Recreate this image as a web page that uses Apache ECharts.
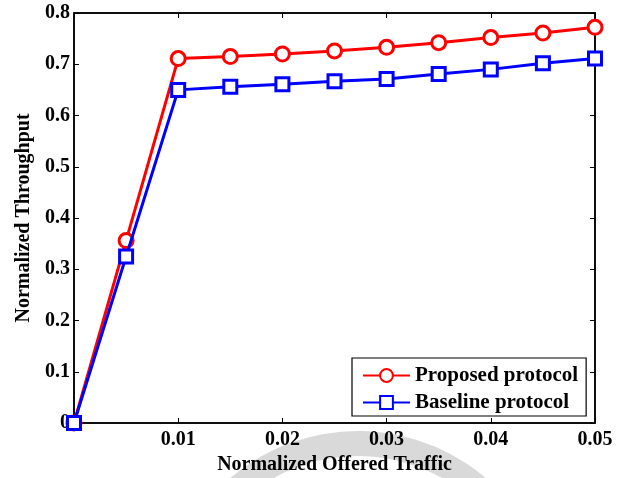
<!DOCTYPE html>
<html>
<head>
<meta charset="utf-8">
<script src="https://cdn.jsdelivr.net/npm/echarts@6/dist/echarts.min.js"></script>
<style>html,body{margin:0;padding:0;background:#fff;}#c{width:628px;height:478px;}</style>
</head>
<body>
<div id="c"></div>
<script>
var offeredTraffic = [0, 0.005, 0.01, 0.015, 0.02, 0.025, 0.03, 0.035, 0.04, 0.045, 0.05];
var proposed = [0, 0.356, 0.711, 0.715, 0.720, 0.726, 0.733, 0.742, 0.752, 0.761, 0.772];
var baseline = [0, 0.325, 0.650, 0.656, 0.661, 0.667, 0.671, 0.681, 0.690, 0.702, 0.711];
var seriesNames = ['Proposed protocol', 'Baseline protocol'];

function pairs(v){ return offeredTraffic.map(function(x,i){ return [x, v[i]]; }); }

var font = 'Liberation Serif';
var chart = echarts.init(document.getElementById('c'));
var axisLine = {show:true, onZero:false, lineStyle:{color:'#000', width:1.5}};
var tick = {show:true, inside:true, length:5, lineStyle:{color:'#000', width:1}};
chart.setOption({
  animation:false,
  backgroundColor:'#fff',
  grid:{left:74, right:33, top:13, bottom:55, containLabel:false, outerBoundsMode:'none',
    show:true, borderColor:'#000', borderWidth:1.5, backgroundColor:'transparent'},
  graphic:[{
    type:'sector', z:-10, silent:true,
    shape:{cx:358, cy:628, r0:172, r:197, startAngle:-Math.PI*0.93, endAngle:-Math.PI*0.2},
    style:{fill:'#d9d9d9'}
  }],
  legend:{
    left:352, top:358,
    orient:'vertical',
    padding:[7,8,3,10],
    itemWidth:47, itemHeight:16, itemGap:6,
    borderColor:'#000', borderWidth:1.2, backgroundColor:'#fff',
    textStyle:{fontFamily:font, fontWeight:'bold', fontSize:21, color:'#000'},
    data:seriesNames
  },
  xAxis:[{
    type:'value', min:0, max:0.05, interval:0.01,
    name:'Normalized Offered Traffic', nameLocation:'middle', nameGap:30,
    nameTextStyle:{fontFamily:font, fontWeight:'bold', fontSize:20, color:'#000'},
    axisLine:axisLine, axisTick:tick,
    axisLabel:{fontFamily:font, fontWeight:'bold', fontSize:20, color:'#000', margin:7,
      formatter:function(v){ return v===0 ? '' : v.toFixed(2); }},
    splitLine:{show:false}
  },{
    type:'value', position:'top', min:0, max:0.05, interval:0.01,
    axisLine:axisLine, axisTick:tick,
    axisLabel:{show:false}, splitLine:{show:false}
  }],
  yAxis:[{
    type:'value', min:0, max:0.8, interval:0.1,
    name:'Normalized Throughput', nameLocation:'middle', nameGap:38, nameRotate:90,
    nameTextStyle:{fontFamily:font, fontWeight:'bold', fontSize:20, color:'#000'},
    axisLine:axisLine, axisTick:tick,
    axisLabel:{fontFamily:font, fontWeight:'bold', fontSize:20, color:'#000', margin:4,
      formatter:function(v){ return v===0 ? '0' : v.toFixed(1); }},
    splitLine:{show:false}
  },{
    type:'value', position:'right', min:0, max:0.8, interval:0.1,
    axisLine:axisLine, axisTick:tick,
    axisLabel:{show:false}, splitLine:{show:false}
  }],
  series:[{
    name:seriesNames[0], type:'line', data:pairs(proposed),
    symbol:'circle', symbolSize:14, showAllSymbol:true,
    lineStyle:{color:'#ff0000', width:3},
    itemStyle:{color:'#fff', borderColor:'#ff0000', borderWidth:3},
    color:'#ff0000', z:3
  },{
    name:seriesNames[1], type:'line', data:pairs(baseline),
    symbol:'rect', symbolSize:13, showAllSymbol:true,
    lineStyle:{color:'#0000ff', width:3},
    itemStyle:{color:'#fff', borderColor:'#0000ff', borderWidth:3},
    color:'#0000ff', z:4
  },{
    name:'_mirror', type:'line', xAxisIndex:1, yAxisIndex:1, data:[[0,0]],
    symbol:'none', lineStyle:{opacity:0}, silent:true
  }]
});
</script>
</body>
</html>
